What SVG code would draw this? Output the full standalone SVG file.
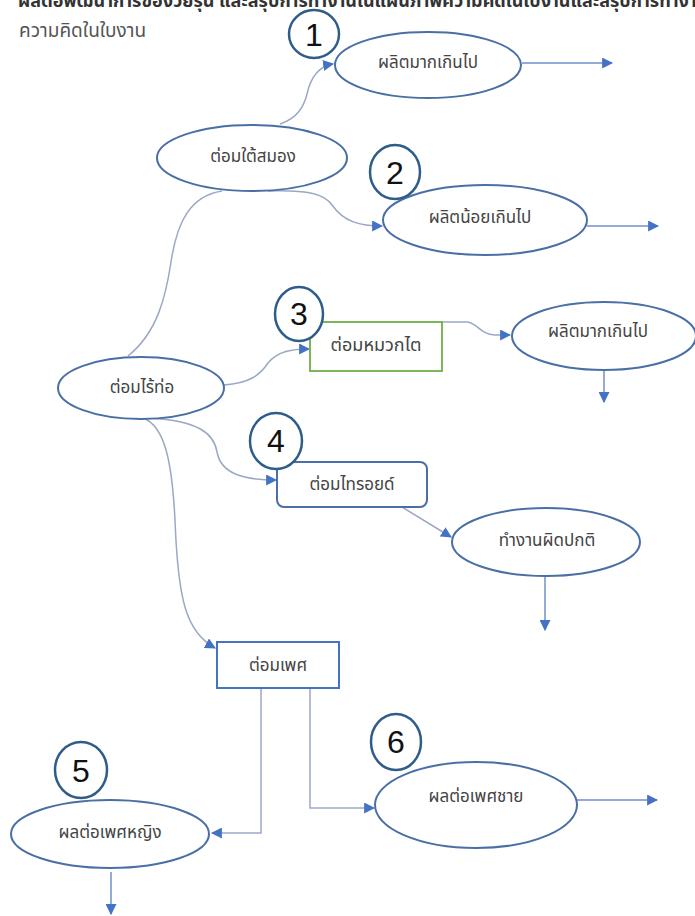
<svg xmlns="http://www.w3.org/2000/svg" width="695" height="916" viewBox="0 0 695 916">
<style>
text{font-family:"Noto Sans Thai","Noto Sans","Liberation Sans",sans-serif;}
.lbl{font-size:17px;fill:#444;text-anchor:middle;dominant-baseline:central;}
.node{fill:#fff;stroke:#4a6fa5;stroke-width:2;}
.num{fill:#fff;stroke:#2f5d8a;stroke-width:2.5;}
.numt{font-family:"Liberation Sans",Arial,sans-serif;font-size:32px;fill:#111;text-anchor:middle;dominant-baseline:central;}
.con{fill:none;stroke:#9aa8c6;stroke-width:1.5;}
.arr{fill:none;stroke:#6f8fc9;stroke-width:1.5;}
</style>
<defs>
<marker id="ah" viewBox="0 0 10 10" refX="9" refY="5" markerWidth="11" markerHeight="11" markerUnits="userSpaceOnUse" orient="auto">
<path d="M0,0 L10,5 L0,10 Z" fill="#4472c4"/>
</marker>
</defs>
<rect width="695" height="916" fill="#fff"/>
<text x="18" y="7" style="font-size:18px;font-weight:bold;fill:#333;">ผลต่อพัฒนาการของวัยรุ่น และสรุปการทำงานในแผนภาพความคิดในใบงานและสรุปการทำงาน</text>
<text x="19" y="37" style="font-size:19px;fill:#555;">ความคิดในใบงาน</text>

<g id="connectors">
<path class="con" d="M280,124 C298,118 304,106 307,94 C311,76 320,66 333,64" marker-end="url(#ah)"/>
<path class="arr" d="M522,63 L612,63" marker-end="url(#ah)"/>
<path class="con" d="M128,356 C158,332 166,295 171,262 C177,222 190,196 222,191"/>
<path class="con" d="M268,191 C310,190 324,194 332,205 C344,222 360,226 382,226" marker-end="url(#ah)"/>
<path class="arr" d="M587,226 L658,226" marker-end="url(#ah)"/>
<path class="con" d="M224,385 C250,383 260,375 268,363 C278,351 292,349 309,349" marker-end="url(#ah)"/>
<path class="con" d="M442,322 L468,322 C478,324 480,334 495,335 L510,335" marker-end="url(#ah)"/>
<path class="arr" d="M604,371 L604,402" marker-end="url(#ah)"/>
<path class="con" d="M150,418 C198,421 214,433 217,452 C221,474 244,480 276,480" marker-end="url(#ah)"/>
<path class="con" d="M402,507 L451,537" marker-end="url(#ah)"/>
<path class="arr" d="M545,577 L545,630" marker-end="url(#ah)"/>
<path class="con" d="M143,418 C165,426 172,462 175,520 C178,600 186,632 215,648" marker-end="url(#ah)"/>
<path class="con" d="M261,688 L261,833 L212,833" marker-end="url(#ah)"/>
<path class="con" d="M310,688 L310,808 L374,808" marker-end="url(#ah)"/>
<path class="arr" d="M111,872 L111,914" marker-end="url(#ah)"/>
<path class="arr" d="M576,800 L657,800" marker-end="url(#ah)"/>
</g>

<g id="n-over1"><ellipse class="node" cx="428" cy="65" rx="93" ry="33"/><text class="lbl" x="428" y="63">ผลิตมากเกินไป</text></g>
<g id="n-pituitary"><ellipse class="node" cx="252" cy="158" rx="95" ry="33"/><text class="lbl" x="253" y="157">ต่อมใต้สมอง</text></g>
<g id="n-under"><ellipse class="node" cx="485" cy="220" rx="102" ry="35"/><text class="lbl" x="480" y="218">ผลิตน้อยเกินไป</text></g>
<g id="n-endocrine"><ellipse class="node" cx="141" cy="388" rx="83" ry="31"/><text class="lbl" x="142" y="388">ต่อมไร้ท่อ</text></g>
<g id="n-adrenal"><rect x="310" y="322" width="132" height="49" fill="#fff" stroke="#70ad47" stroke-width="1.8"/><text class="lbl" x="376" y="345" style="font-size:18px;">ต่อมหมวกไต</text></g>
<g id="n-over2"><ellipse class="node" cx="604" cy="336" rx="92" ry="34"/><text class="lbl" x="598" y="332">ผลิตมากเกินไป</text></g>
<g id="n-thyroid"><rect x="277" y="462" width="150" height="45" rx="7" fill="#fff" stroke="#4a6fa5" stroke-width="2"/><text class="lbl" x="352" y="485">ต่อมไทรอยด์</text></g>
<g id="n-abnormal"><ellipse class="node" cx="546" cy="542" rx="94" ry="34"/><text class="lbl" x="547" y="541">ทำงานผิดปกติ</text></g>
<g id="n-gonad"><rect x="217" y="642" width="122" height="46" fill="#fff" stroke="#4472c4" stroke-width="2"/><text class="lbl" x="278" y="666">ต่อมเพศ</text></g>
<g id="n-female"><ellipse class="node" cx="110" cy="834" rx="99" ry="34"/><text class="lbl" x="110" y="833">ผลต่อเพศหญิง</text></g>
<g id="n-male"><ellipse class="node" cx="476" cy="805" rx="101" ry="43"/><text class="lbl" x="476" y="797">ผลต่อเพศชาย</text></g>

<g id="num1"><ellipse class="num" cx="314" cy="34" rx="25" ry="24"/><text class="numt" x="314" y="35">1</text></g>
<g id="num2"><ellipse class="num" cx="395" cy="172" rx="25" ry="27"/><text class="numt" x="395" y="173">2</text></g>
<g id="num3"><ellipse class="num" cx="299" cy="314" rx="24" ry="27"/><text class="numt" x="299" y="314">3</text></g>
<g id="num4"><ellipse class="num" cx="276" cy="441" rx="26" ry="28"/><text class="numt" x="276" y="441">4</text></g>
<g id="num5"><ellipse class="num" cx="81" cy="770" rx="26" ry="28"/><text class="numt" x="81" y="771">5</text></g>
<g id="num6"><ellipse class="num" cx="396" cy="742" rx="25" ry="28"/><text class="numt" x="396" y="742">6</text></g>
</svg>
